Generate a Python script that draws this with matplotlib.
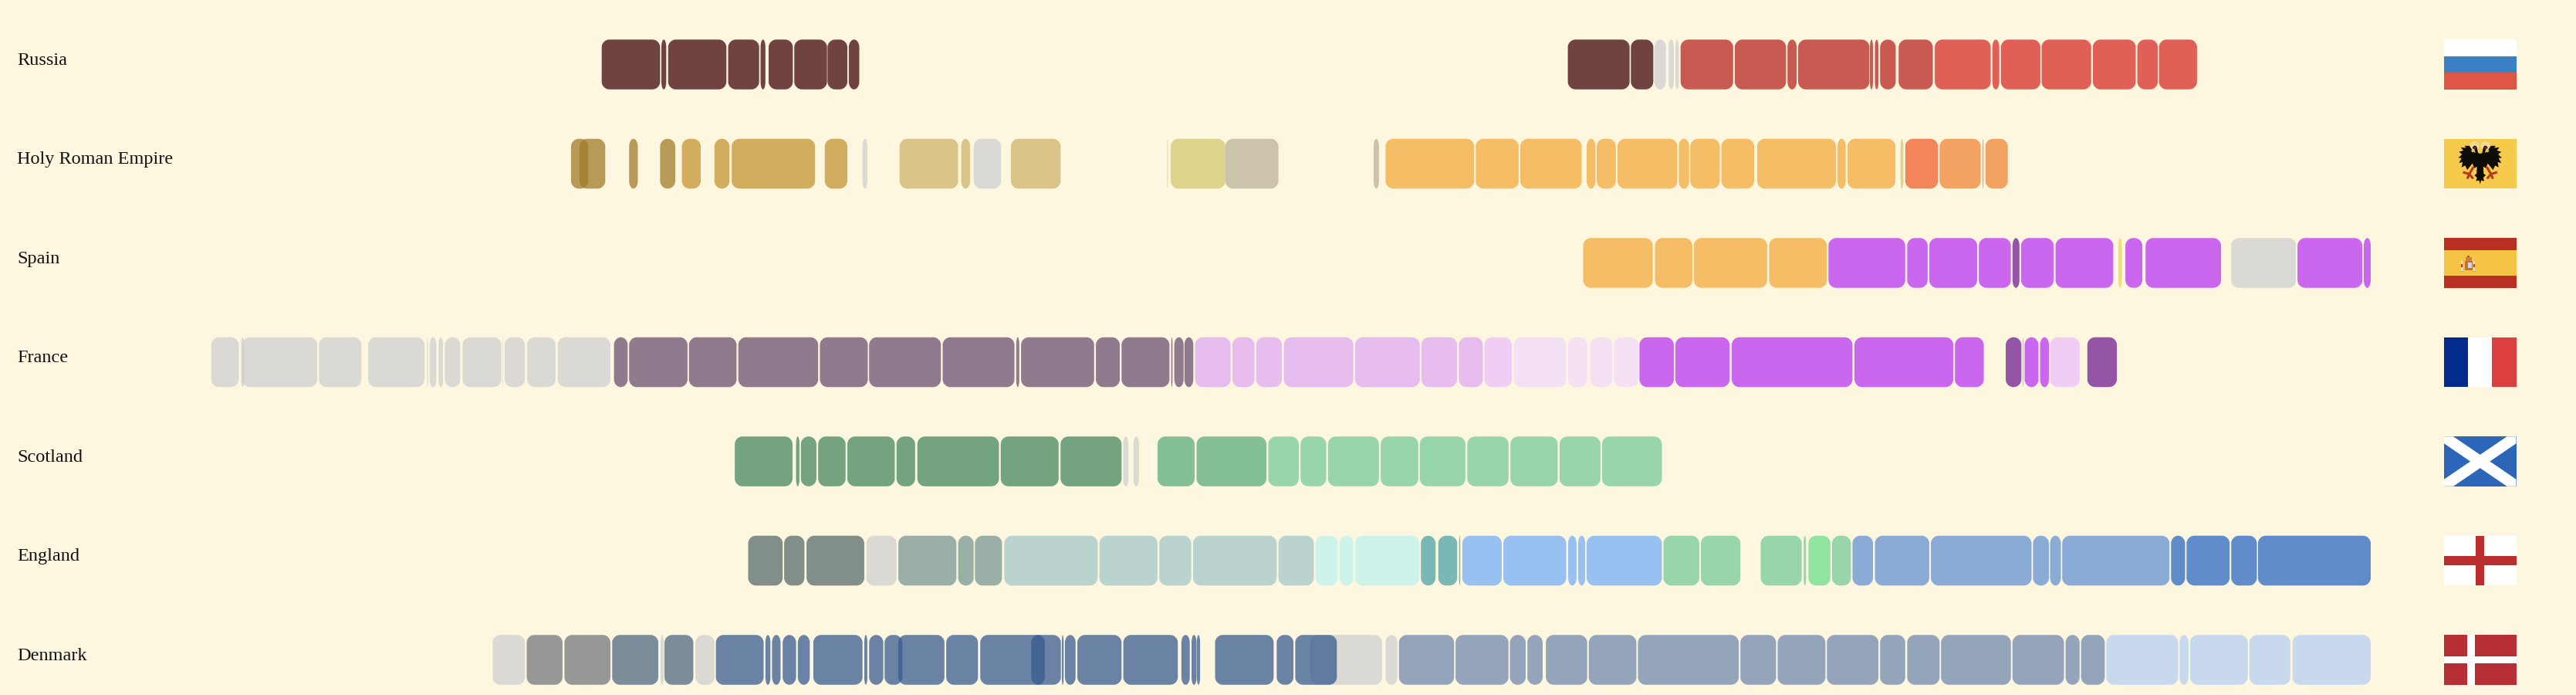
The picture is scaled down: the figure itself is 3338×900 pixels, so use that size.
"""
plot.py
Reign timelines of seven European monarchies, one row per realm, flag at the right.
"""

import matplotlib
matplotlib.use("Agg")
import matplotlib.pyplot as plt
import numpy as np
from matplotlib.colors import to_rgb
from matplotlib.patches import Circle, PathPatch, Polygon, Rectangle
from matplotlib.path import Path

BG = "#FEF7E0"
TEXT = "#111111"
BAR_ALPHA = 0.75

# shown colours of the dynasties, after blending on the background
TONES = {
    "grey": "#DAD9D3",
    "ru_dark": "#704240", "ru_red": "#C85A52", "ru_light": "#E06058",
    "hre_a": "#B89A58", "hre_b": "#D3AD5E", "hre_c": "#DBC488", "hre_d": "#DDD38B",
    "hre_e": "#CCC5AB", "hre_f": "#F6BD66", "hre_g": "#F28559", "hre_h": "#F4A261",
    "es_yellow": "#EAE27A",
    "purple": "#CC66EE", "purple_dark": "#9555A6",
    "fr_a": "#8F7A8E", "fr_b": "#E6BDEE", "fr_c": "#F0CDF4", "fr_d": "#F6E1F5",
    "sc_a": "#74A380", "sc_b": "#84C093", "sc_c": "#98D5AA",
    "en_a": "#818F88", "en_b": "#9BAFA9", "en_c": "#BAD4CE", "en_d": "#CEF3EB",
    "en_e": "#79B8B5", "en_f": "#98C1F2", "en_g": "#90E4A0", "en_h": "#8AABD6",
    "en_i": "#608CCB",
    "dk_a": "#969896", "dk_b": "#7B8C9B", "dk_c": "#6A82A4", "dk_d": "#94A5BB",
    "dk_e": "#C8DAEE",
}

countries = ["Russia", "Holy Roman Empire", "Spain", "France", "Scotland", "England", "Denmark"]

russia_start = [925.2, 962.2, 966.4, 1003.6, 1023.7, 1028.7, 1044.6, 1065.2, 1078.4, 1524.2, 1563.3,
                1577.9, 1586.7, 1590.9,
                1594.1, 1627.7, 1660.4, 1667.0, 1711.5, 1714.6, 1717.8, 1729.3,
                1751.7, 1787.4, 1792.7, 1817.9, 1849.7, 1877.3, 1890.7]
russia_end = [961.4, 965.2, 1002.5, 1022.8, 1026.7, 1043.7, 1064.9, 1077.5, 1084.9, 1562.5, 1577.2,
              1585.0, 1589.9, 1593.0,
              1626.7, 1659.5, 1666.1, 1711.2, 1713.4, 1716.8, 1727.5, 1750.5,
              1786.4, 1791.7, 1817.2, 1848.7, 1876.3, 1890.0, 1914.3]
russia_tone = ["ru_dark"] * 11 + ["grey"] * 3 + ["ru_red"] * 8 + ["ru_light"] * 7

hre_start = [906.2, 911.4, 942.2, 961.4,
             974.9, 995.1, 1005.8, 1063.5,
             1086.9,
             1109.9, 1148.1,
             1155.8,
             1178.9,
             1275.8, 1278.0,
             1311.8, 1403.8,
             1411.2, 1467.1, 1494.7, 1535.9, 1542.1, 1555.0, 1593.0, 1600.1, 1619.4, 1641.6, 1691.4, 1697.6,
             1730.5,
             1733.4,
             1754.7,
             1781.4,
             1783.1]
hre_end = [916.9, 927.4, 947.6, 970.8,
           986.6, 1004.4, 1057.5, 1077.5,
           1089.9,
           1146.2, 1153.6,
           1172.8,
           1209.7,
           1276.2, 1311.8,
           1344.8, 1407.1,
           1466.1, 1493.7, 1532.8, 1541.3, 1554.0, 1592.1, 1599.4, 1618.4, 1639.7, 1690.5, 1696.5, 1727.3,
           1732.2,
           1753.7,
           1780.2,
           1781.9,
           1797.0]
hre_tone = (["hre_a"] * 4 + ["hre_b"] * 4 + ["grey"] + ["hre_c"] * 2 + ["grey"] + ["hre_c"]
            + ["hre_d"] * 2 + ["hre_e"] * 2 + ["hre_f"] * 12 + ["hre_d"] + ["hre_g"] + ["hre_h"]
            + ["hre_g"] + ["hre_h"])

spain_start = [1533.7, 1578.2, 1602.3, 1649.0,
               1685.8, 1734.6, 1748.3, 1779.0,
               1799.9,
               1805.2, 1826.6,
               1865.5,
               1869.9, 1882.4,
               1935.5,
               1976.6, 2017.7]
spain_end = [1576.9, 1601.4, 1647.8, 1684.8,
             1733.4, 1747.3, 1778.0, 1798.9,
             1804.2,
             1825.4, 1862.4,
             1867.7,
             1880.4, 1929.2,
             1975.7,
             2016.8, 2022.0]
spain_tone = (["hre_f"] * 4 + ["purple"] * 4 + ["purple_dark"] + ["purple"] * 2 + ["es_yellow"]
              + ["purple"] * 2 + ["grey"] + ["purple"] * 2)

france_start = [683.1, 701.6, 702.4, 749.9, 780.4, 816.9, 818.5, 824.1, 827.9, 838.9, 863.6, 865.0, 879.0, 897.9,
                932.8, 942.2, 979.3, 1009.9, 1060.5, 1091.0, 1136.6, 1182.2, 1185.2, 1231.6, 1247.5, 1278.3, 1280.2, 1286.5,
                1293.1, 1316.2, 1331.0, 1348.1, 1392.3, 1433.4, 1456.6,
                1472.5,
                1490.8, 1524.4, 1537.2, 1538.1, 1552.8,
                1568.6, 1590.9, 1625.8, 1701.9, 1764.2,
                1795.7,
                1806.2, 1807.4, 1817.0,
                1823.2,
                1846.3]
france_end = [700.2, 703.6, 748.8, 776.2, 815.3, 817.5, 822.7, 826.8, 837.5, 863.0, 863.9, 877.6, 896.6, 930.6,
              941.3, 978.4, 1008.8, 1059.4, 1090.2, 1135.5, 1181.1, 1184.1, 1230.5, 1246.4, 1277.2, 1279.1, 1286.0, 1292.0,
              1315.1, 1329.9, 1346.9, 1391.2, 1432.4, 1455.6, 1471.5,
              1489.5,
              1523.2, 1536.2, 1537.4, 1551.8, 1567.9,
              1589.9, 1624.5, 1700.7, 1763.2, 1782.1,
              1805.4,
              1806.5, 1816.0, 1822.5,
              1841.5,
              1864.6]
france_tone = (["grey"] * 14 + ["fr_a"] * 14 + ["fr_b"] * 7 + ["fr_c"] + ["fr_d"] * 5 + ["purple"] * 5
               + ["purple_dark"] + ["purple"] * 3 + ["fr_c"] + ["purple_dark"])

scotland_start = [1007.7, 1045.7, 1048.7, 1059.4, 1077.5, 1108.0, 1120.9, 1172.6, 1209.7,
                  1248.6, 1254.9,
                  1269.8, 1294.0,
                  1338.5, 1358.5, 1375.5, 1408.2, 1432.4, 1461.9, 1488.6, 1519.1, 1545.4]
scotland_end = [1043.5, 1047.8, 1058.3, 1076.4, 1106.9, 1119.5, 1171.5, 1208.5, 1247.5,
                1251.7, 1258.3,
                1292.8, 1337.3,
                1357.4, 1374.4, 1407.1, 1431.5, 1460.7, 1487.4, 1517.9, 1544.4, 1582.5]
scotland_tone = ["sc_a"] * 9 + ["grey"] * 2 + ["sc_b"] * 2 + ["sc_c"] * 9

england_start = [1016.0, 1038.3, 1052.2,
                 1089.3,
                 1109.1, 1146.2, 1156.6,
                 1174.8, 1233.8, 1270.9, 1291.8, 1344.8,
                 1367.8, 1382.7, 1392.3,
                 1433.1, 1443.9, 1456.8,
                 1458.8, 1484.2, 1524.4, 1530.6, 1535.9,
                 1583.5, 1606.7, 1643.8, 1670.4,
                 1673.4,
                 1688.0,
                 1700.7, 1714.6, 1749.3, 1812.6, 1823.2, 1830.7,
                 1898.2, 1907.8, 1935.5, 1952.1]
england_end = [1037.4, 1050.9, 1088.0,
               1108.0,
               1145.1, 1155.8, 1173.4,
               1232.7, 1269.8, 1290.7, 1343.7, 1366.7,
               1381.6, 1391.2, 1432.2,
               1442.2, 1455.6, 1457.5,
               1483.2, 1523.2, 1529.6, 1535.0, 1582.5,
               1605.7, 1631.2, 1669.2, 1671.9,
               1687.0,
               1699.7,
               1713.4, 1748.3, 1811.7, 1822.5, 1829.9, 1897.2,
               1906.9, 1934.5, 1951.4, 2022.0]
england_tone = (["en_a"] * 3 + ["grey"] + ["en_b"] * 3 + ["en_c"] * 5 + ["en_d"] * 3 + ["en_e"] * 3
                + ["en_f"] * 5 + ["sc_c"] * 4 + ["en_g"] + ["sc_c"] + ["en_h"] * 6 + ["en_i"] * 4)

denmark_start = [857.6, 878.7, 902.1, 931.7, 961.7, 964.1, 983.3,
                 1364.5, 1411.2,
                 996.0, 1026.7, 1030.8, 1037.4, 1046.8, 1056.4, 1088.0, 1091.0, 1100.6, 1109.1, 1138.8,
                 1159.9, 1191.5, 1210.5, 1212.4, 1220.1, 1248.6, 1284.6, 1290.9, 1294.2, 1305.5, 1343.7, 1355.2,
                 1419.5, 1454.6, 1488.3, 1499.1, 1510.6, 1537.2, 1567.7, 1631.2, 1654.3, 1684.8, 1717.8, 1734.6,
                 1755.6, 1799.9, 1832.8, 1842.4,
                 1858.1, 1903.5, 1910.0, 1946.8, 1973.5]
denmark_end = [877.6, 900.9, 930.6, 960.3, 963.6, 982.0, 995.1,
               1409.0, 1418.5,
               1025.6, 1029.8, 1036.1, 1045.7, 1054.2, 1086.9, 1089.9, 1099.8, 1111.6, 1137.7, 1158.5,
               1209.9, 1200.0, 1211.6, 1219.0, 1247.5, 1282.4, 1289.8, 1294.0, 1296.2, 1341.8, 1354.1, 1381.0,
               1453.7, 1487.4, 1498.1, 1508.6, 1536.2, 1566.7, 1630.2, 1653.3, 1683.9, 1716.8, 1733.4, 1754.7,
               1798.9, 1831.8, 1841.5, 1857.1,
               1902.6, 1909.0, 1945.8, 1972.2, 2022.0]
denmark_tone = (["grey"] + ["dk_a"] * 2 + ["dk_b"] + ["grey"] + ["dk_b"] + ["grey"] + ["grey"] * 2
                + ["dk_c"] * 23 + ["dk_d"] * 16 + ["dk_e"] * 5)

rows = [
    (russia_start, russia_end, russia_tone),
    (hre_start, hre_end, hre_tone),
    (spain_start, spain_end, spain_tone),
    (france_start, france_end, france_tone),
    (scotland_start, scotland_end, scotland_tone),
    (england_start, england_end, england_tone),
    (denmark_start, denmark_end, denmark_tone),
]

# ── Layout, in pixels of the 3338x900 picture ───────────────────────────────
W, H = 3338, 900
YEAR_PER_PX = 0.47847
YEAR_LEFT = 552.14
ROW_TOP = 83.5
ROW_PITCH = 128.5
BAR_H_PX = 64.5
CORNER_PX = 10.0
FLAG_X = 3167
FLAG_W = 93.5


def solid(shown):
    """Colour to paint at BAR_ALPHA so that it shows as *shown* on the background."""
    s, b = np.array(to_rgb(shown)), np.array(to_rgb(BG))
    return tuple(np.clip((s - (1 - BAR_ALPHA) * b) / BAR_ALPHA, 0, 1))


def rounded_bar(x0, x1, y, h, rx, ry):
    """Bar with elliptic corners; rx shrinks on narrow bars, which turn into lenses."""
    rx = min(rx, (x1 - x0) / 2)
    k = 0.5523
    t, b = y - h / 2, y + h / 2
    verts = [
        (x0 + rx, t), (x1 - rx, t),
        (x1 - rx + k * rx, t), (x1, t + ry - k * ry), (x1, t + ry),
        (x1, b - ry),
        (x1, b - ry + k * ry), (x1 - rx + k * rx, b), (x1 - rx, b),
        (x0 + rx, b),
        (x0 + rx - k * rx, b), (x0, b - ry + k * ry), (x0, b - ry),
        (x0, t + ry),
        (x0, t + ry - k * ry), (x0 + rx - k * rx, t), (x0 + rx, t),
        (x0 + rx, t),
    ]
    codes = [Path.MOVETO, Path.LINETO, Path.CURVE4, Path.CURVE4, Path.CURVE4, Path.LINETO,
             Path.CURVE4, Path.CURVE4, Path.CURVE4, Path.LINETO,
             Path.CURVE4, Path.CURVE4, Path.CURVE4, Path.LINETO,
             Path.CURVE4, Path.CURVE4, Path.CURVE4, Path.CLOSEPOLY]
    return Path(verts, codes)


def stripes(ax, colors, horizontal=True):
    n = len(colors)
    for i, c in enumerate(colors):
        if horizontal:
            ax.add_patch(Rectangle((0, i / n), 1, 1 / n, color=c, lw=0))
        else:
            ax.add_patch(Rectangle((i / n, 0), 1 / n, 1, color=c, lw=0))


def flag_russia(ax):
    stripes(ax, ["#FFFFFF", "#3A80C4", "#E05645"])


def flag_hre(ax):
    ax.set_xlim(0, 280)
    ax.set_ylim(192, 0)
    ax.add_patch(Rectangle((0, 0), 280, 192, color="#F6CB4B", lw=0))
    half = [(0, 57), (8, 55), (12, 35), (16, 27), (24, 27), (30, 35), (22, 41), (18, 55), (28, 47),
            (42, 27), (60, 27), (55, 35), (75, 33), (65, 45), (82, 50), (70, 60), (84, 73), (72, 75),
            (82, 93), (68, 90), (72, 110), (58, 103), (50, 120), (38, 105), (30, 95), (22, 113),
            (12, 107), (14, 135), (22, 140), (12, 150), (16, 163), (4, 160), (0, 175)]
    cx = 140
    right = [(cx + dx, y) for dx, y in half]
    left = [(cx - dx, y) for dx, y in reversed(half)]
    for s in (-1, 1):
        ax.add_patch(Circle((cx + s * 21, 27), 15, fc="#F0D98A", ec="#E8DDB8", lw=1))
        ax.plot([cx + s * 28, cx + s * 42, cx + s * 62], [112, 136, 130], color="#B23A20", lw=2.2)
        ax.plot([cx + s * 42, cx + s * 48], [136, 150], color="#B23A20", lw=2.2)
        ax.plot([cx + s * 42, cx + s * 30], [136, 150], color="#B23A20", lw=2.2)
    ax.add_patch(Polygon(right + left, closed=True, fc="#0E0C08", ec="none"))
    for s in (-1, 1):
        ax.add_patch(Circle((cx + s * 20, 35), 4, fc="#A8243A", ec="none"))
        ax.add_patch(Circle((cx + s * 28, 46), 6, fc="#E8C23C", ec="none"))


def flag_spain(ax):
    ax.set_xlim(0, 280)
    ax.set_ylim(192, 0)
    ax.add_patch(Rectangle((0, 0), 280, 192, color="#B83022", lw=0))
    ax.add_patch(Rectangle((0, 48), 280, 96, color="#F6C445", lw=0))
    ax.add_patch(Rectangle((80, 88), 30, 36, color="#C8703A", lw=0))
    ax.add_patch(Rectangle((94, 94), 14, 20, color="#D8D4DC", lw=0))
    ax.add_patch(Rectangle((84, 74), 24, 14, color="#C9863A", lw=0))
    ax.add_patch(Rectangle((90, 68), 10, 7, color="#D23A2A", lw=0))
    for x in (65, 113):
        ax.add_patch(Rectangle((x, 88), 6, 40, color="#E8E0D0", lw=0))
        ax.add_patch(Rectangle((x + 1, 100), 5, 12, color="#C23A2A", lw=0))
        ax.add_patch(Rectangle((x - 3, 126), 12, 5, color="#A8A8A0", lw=0))


def flag_france(ax):
    stripes(ax, ["#052A8F", "#FFFFFF", "#DD4040"], horizontal=False)


def flag_scotland(ax):
    ax.add_patch(Rectangle((0, 0), 1, 1, color="#2B66B8", lw=0))
    cross = [(0, 0), (0.129, 0), (1, 0.86), (1, 1), (0.871, 1), (0, 0.14)]
    ax.add_patch(Polygon(cross, closed=True, fc="white", ec="none"))
    ax.add_patch(Polygon([(1 - u, v) for u, v in cross], closed=True, fc="white", ec="none"))


def flag_england(ax):
    ax.add_patch(Rectangle((0, 0), 1, 1, color="white", lw=0))
    ax.add_patch(Rectangle((0.44, 0), 0.12, 1, color="#BA2F2D", lw=0))
    ax.add_patch(Rectangle((0, 0.404), 1, 0.196, color="#BA2F2D", lw=0))


def flag_denmark(ax):
    ax.add_patch(Rectangle((0, 0), 1, 1, color="#B52F35", lw=0))
    ax.add_patch(Rectangle((0.323, 0), 0.107, 1, color="white", lw=0))
    ax.add_patch(Rectangle((0, 0.4375), 1, 0.1355, color="white", lw=0))


flags = [flag_russia, flag_hre, flag_spain, flag_france, flag_scotland, flag_england, flag_denmark]

fig = plt.figure(figsize=(W / 100, H / 100), dpi=100, facecolor=BG)
ax = fig.add_axes([0, 0, 1, 1], facecolor=BG)
ax.set_xlim(YEAR_LEFT, YEAR_LEFT + W * YEAR_PER_PX)
ax.set_ylim((H - ROW_TOP) / ROW_PITCH, -ROW_TOP / ROW_PITCH)
ax.axis("off")

rx = CORNER_PX * YEAR_PER_PX
ry = CORNER_PX / ROW_PITCH
bar_h = BAR_H_PX / ROW_PITCH

for i, (name, (starts, ends, tones)) in enumerate(zip(countries, rows)):
    ax.text(YEAR_LEFT + 22 * YEAR_PER_PX, i, name, family="Liberation Serif", fontsize=17.5,
            color=TEXT, ha="left", va="baseline")
    for s, e, t in zip(starts, ends, tones, strict=True):
        ax.add_patch(PathPatch(rounded_bar(s, e, i, bar_h, rx, ry), fc=solid(TONES[t]), ec="none",
                               lw=0, alpha=BAR_ALPHA))

    # flag in its own small axes, same height as the bars
    top = ROW_TOP + i * ROW_PITCH - BAR_H_PX / 2
    fax = fig.add_axes([FLAG_X / W, 1 - (top + BAR_H_PX) / H, FLAG_W / W, BAR_H_PX / H])
    fax.set_xlim(0, 1)
    fax.set_ylim(1, 0)
    fax.axis("off")
    flags[i](fax)

fig.savefig("out.png", dpi=100, facecolor=BG)
plt.close(fig)
